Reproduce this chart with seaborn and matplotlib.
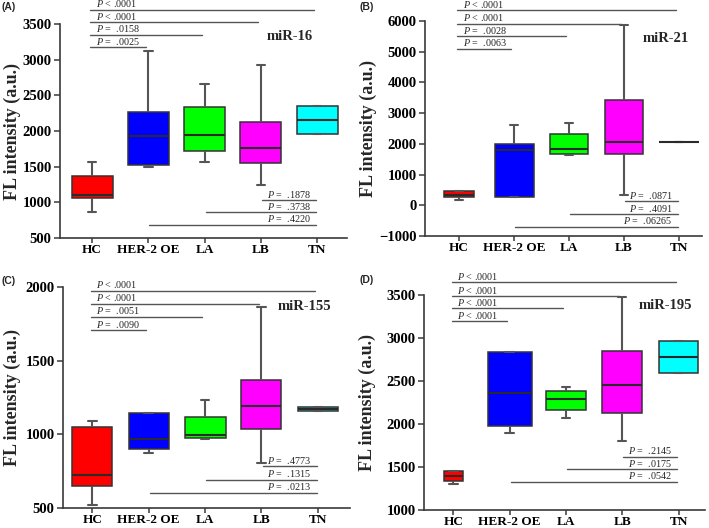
import numpy as np
import pandas as pd
import matplotlib
matplotlib.use('Agg')
import matplotlib.pyplot as plt
import seaborn as sns

# ---------------- data ---------------- #
groups = ['HC', 'HER-2 OE', 'LA', 'LB', 'TN']

# five-number summaries per group: min, q1, median, q3, max
mir16 = [[860, 1067, 1100, 1372, 1570],
         [1500, 1530, 1935, 2272, 3125],
         [1560, 1719, 1940, 2333, 2656],
         [1250, 1555, 1756, 2131, 2919],
         [1953, 1953, 2155, 2352, 2352]]
mir21 = [[170, 280, 330, 474, 474],
         [260, 280, 1800, 1990, 2630],
         [1633, 1666, 1840, 2337, 2684],
         [322, 1655, 2045, 3421, 5860],
         [2066, 2066, 2066, 2066, 2066]]
mir155 = [[518, 649, 721, 1053, 1093],
          [872, 902, 969, 1143, 1143],
          [967, 978, 996, 1118, 1235],
          [805, 1037, 1192, 1371, 1865],
          [1156, 1156, 1170, 1183, 1183]]
mir195 = [[1299, 1338, 1392, 1454, 1454],
          [1901, 1982, 2359, 2840, 2840],
          [2075, 2161, 2289, 2382, 2425],
          [1804, 2130, 2456, 2844, 3473],
          [2592, 2592, 2778, 2960, 2960]]

# p-values: HC vs TN, LB, LA, HER-2 OE (top) and LB, LA, HER-2 OE vs TN (bottom)
mir16_top_p = ['< .0001', '< .0001', '=  .0158', '=  .0025']
mir16_bottom_p = ['=  .1878', '=  .3738', '=  .4220']
mir21_top_p = ['< .0001', '< .0001', '=  .0028', '=  .0063']
mir21_bottom_p = ['=  .0871', '=  .4091', '=  .06265']
mir155_top_p = ['< .0001', '< .0001', '=  .0051', '=  .0090']
mir155_bottom_p = ['=  .4773', '=  .1315', '=  .0213']
mir195_top_p = ['< .0001', '< .0001', '< .0001', '< .0001']
mir195_bottom_p = ['=  .2145', '=  .0175', '=  .0542']

# ---------------- layout / style ---------------- #
box_colors = ['#FF0000', '#0000FF', '#00FF00', '#FF00FF', '#00FFFF']
top_targets = [4, 3, 2, 1]
bottom_sources = [3, 2, 1]

panels = [
    dict(letter='(A)', name='miR-16', data=mir16, top_p=mir16_top_p, bottom_p=mir16_bottom_p,
         rect=[60 / 709, 1 - 238 / 528, 287 / 709, 214 / 528], ylim=(500, 3500), step=500,
         xlim=(-0.57, 4.53), top_y=[3700, 3523, 3350, 3172], bottom_y=[1030, 861, 688],
         widths=[0.73, 0.73, 0.73, 0.73, 0.73], title_xy=(0.80, 0.94), label_x=-0.135,
         letter_xy=(2, 7)),
    dict(letter='(B)', name='miR-21', data=mir21, top_p=mir21_top_p, bottom_p=mir21_bottom_p,
         rect=[425 / 709, 1 - 236 / 528, 277 / 709, 215 / 528], ylim=(-1000, 6000), step=1000,
         xlim=(-0.62, 4.42), top_y=[6347, 5913, 5502, 5090], bottom_y=[138, -285, -697],
         widths=[0.56, 0.71, 0.70, 0.68, 0.73], title_xy=(0.87, 0.92), label_x=-0.175,
         letter_xy=(360, 7)),
    dict(letter='(C)', name='miR-155', data=mir155, top_p=mir155_top_p, bottom_p=mir155_bottom_p,
         rect=[63 / 709, 1 - 508 / 528, 287 / 709, 221 / 528], ylim=(500, 2000), step=500,
         xlim=(-0.52, 4.57), top_y=[1973, 1885, 1797, 1707], bottom_y=[784, 692, 604],
         widths=[0.71, 0.71, 0.73, 0.71, 0.71], title_xy=(0.84, 0.91), label_x=-0.145,
         letter_xy=(2, 281)),
    dict(letter='(D)', name='miR-195', data=mir195, top_p=mir195_top_p, bottom_p=mir195_bottom_p,
         rect=[424 / 709, 1 - 510 / 528, 281 / 709, 215 / 528], ylim=(1000, 3500), step=500,
         xlim=(-0.52, 4.47), top_y=[3647, 3488, 3345, 3193], bottom_y=[1621, 1474, 1330],
         widths=[0.33, 0.78, 0.72, 0.72, 0.70], title_xy=(0.86, 0.95), label_x=-0.17,
         letter_xy=(360, 280)),
]

sns.set_style('ticks')
plt.rcParams['font.family'] = ['Liberation Serif', 'DejaVu Serif']
plt.rcParams['mathtext.fontset'] = 'custom'
plt.rcParams['mathtext.rm'] = 'Liberation Serif'
plt.rcParams['mathtext.it'] = 'Liberation Serif:italic'
plt.rcParams['axes.unicode_minus'] = True

axis_color = '#3a3a3a'
line_color = '#555555'

fig = plt.figure(figsize=(7.09, 5.28), dpi=100)

for p in panels:
    ax = fig.add_axes(p['rect'])

    rows = []
    for g, vals in zip(groups, p['data']):
        for v in vals:
            rows.append({'group': g, 'value': v})
    df = pd.DataFrame(rows)

    # one call per group so each box can keep its own width
    for i, g in enumerate(groups):
        sns.boxplot(data=df[df['group'] == g], x='group', y='value', order=groups,
                    color=box_colors[i], saturation=1, width=p['widths'][i],
                    whis=(0, 100), linecolor='#333333', linewidth=1.1,
                    medianprops={'color': '#2a2a2a', 'linewidth': 1.5},
                    whiskerprops={'color': line_color, 'linewidth': 1.5},
                    capprops={'color': line_color, 'linewidth': 1.5},
                    capwidths=0.15, ax=ax)

    ax.set_xlim(*p['xlim'])
    ax.set_ylim(*p['ylim'])
    ax.set_yticks(np.arange(p['ylim'][0], p['ylim'][1] + 1, p['step']))
    ax.set_xlabel('')
    ax.set_ylabel('FL intensity (a.u.)', fontsize=13, fontweight='bold')
    ax.yaxis.set_label_coords(p['label_x'], 0.5)

    for lbl in ax.get_yticklabels():
        lbl.set_fontweight('bold')
        lbl.set_fontsize(10.5)
    for lbl in ax.get_xticklabels():
        lbl.set_fontweight('bold')
        lbl.set_fontsize(9.5)

    sns.despine(ax=ax)
    for side in ['left', 'bottom']:
        ax.spines[side].set_color(axis_color)
        ax.spines[side].set_linewidth(1.2)
    ax.tick_params(axis='y', colors=axis_color, length=4, width=1.1, pad=2)
    ax.tick_params(axis='x', colors=axis_color, length=3.5, width=1.1, pad=0.5)
    for lbl in ax.get_xticklabels() + ax.get_yticklabels():
        lbl.set_color('black')

    # HC vs the other groups (above)
    for tgt, y, txt in zip(top_targets, p['top_y'], p['top_p']):
        ax.plot([-0.03, tgt - 0.05], [y, y], color=line_color, lw=1.0, clip_on=False)
        ax.annotate('$P$ ' + txt, xy=(0.07, y), xytext=(0, 1.8), textcoords='offset points',
                    ha='left', va='baseline', fontsize=7.3, annotation_clip=False)

    # other groups vs TN (below)
    for src, y, txt in zip(bottom_sources, p['bottom_y'], p['bottom_p']):
        ax.plot([src + 0.02, 3.98], [y, y], color=line_color, lw=1.0, clip_on=False)
        ax.annotate('$P$ ' + txt, xy=(3.88, y), xytext=(0, 1.8), textcoords='offset points',
                    ha='right', va='baseline', fontsize=7.3, annotation_clip=False)

    ax.text(p['title_xy'][0], p['title_xy'][1], p['name'], transform=ax.transAxes,
            ha='center', va='center', fontsize=10.5, fontweight='bold')

    fig.text(p['letter_xy'][0] / 709, 1 - p['letter_xy'][1] / 528, p['letter'],
             ha='left', va='center', fontsize=7.5, fontweight='bold',
             family=['Liberation Sans', 'DejaVu Sans'])

plt.savefig('out.png', dpi=100)
plt.close()
